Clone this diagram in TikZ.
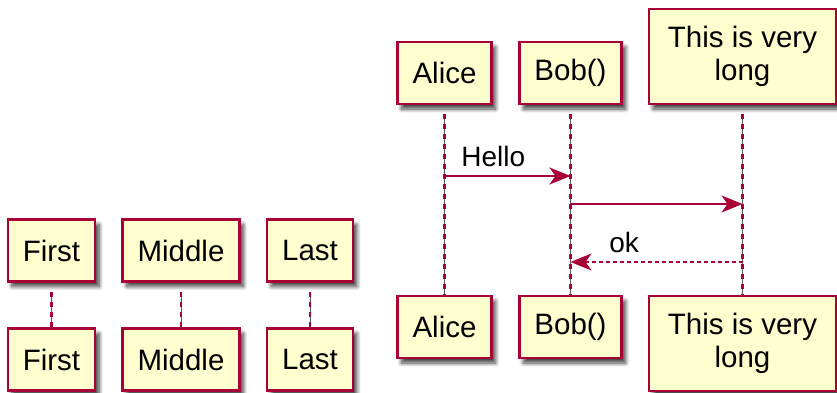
\documentclass[tikz,border=0pt]{standalone}
\usepackage{fontspec}
\setmainfont{Liberation Sans}
\usetikzlibrary{arrows.meta,calc,shadows.blur}
\definecolor{plborder}{HTML}{A80036}
\definecolor{plfill}{HTML}{FEFECE}
\tikzset{
	part/.style={draw=plborder, fill=plfill, line width=2.4pt, inner xsep=15pt, minimum height=62pt,
		font=\fontsize{29.5}{33}\selectfont,
		blur shadow={shadow xshift=4pt, shadow yshift=-5pt, shadow blur radius=4pt, shadow blur steps=8, shadow opacity=75}},
	lifegray/.style={draw=gray!70!black, line width=1pt, shorten <=9pt},
	lifedash/.style={draw=plborder, line width=2.2pt, shorten <=9pt, dash pattern=on 5pt off 5pt},
	msg/.style={draw=plborder, line width=1.7pt, -{Stealth[length=21pt,width=17pt,inset=6pt]}},
	reply/.style={msg, dash pattern=on 4pt off 3pt},
	msglabel/.style={font=\fontsize{28}{32}\selectfont, anchor=base west, inner sep=0pt}
}

\begin{document}
\begin{tikzpicture}[x=1pt,y=-1pt]
		\useasboundingbox (0,0) rectangle (837,392);
		% first / middle / last
		\node[part] (first) at (51.5,250.5) {First};
		\node[part] (middle) at (181,250.5) {Middle};
		\node[part] (last) at (310,250.5) {Last};
		\node[part] (first2) at (51.5,359.5) {First};
		\node[part] (middle2) at (181,359.5) {Middle};
		\node[part] (last2) at (310,359.5) {Last};
		% alice / bob / long
		\node[part] (alice) at (444.5,73) {Alice};
		\node[part] (bob) at (570.5,73) {Bob()};
		\node[part, align=center, minimum width=187pt, minimum height=95pt] (long) at (742.5,56.5) {This is very\\long};
		\node[part] (alice2) at (444.5,327) {Alice};
		\node[part] (bob2) at (570.5,327) {Bob()};
		\node[part, align=center, minimum width=187pt, minimum height=95pt] (long2) at (742.5,343.5) {This is very\\long};
		\foreach \p in {first,middle,last,alice,bob,long}{
			\draw[lifegray] (\p) -- (\p2);
			\draw[lifedash] (\p) -- (\p2);
		}
		\coordinate (m1) at (0,176);
		\coordinate (m2) at (0,204);
		\coordinate (m3) at (0,262);
		\draw[msg] (alice |- m1) -- node[msglabel, pos=0, xshift=16pt, yshift=10pt] {Hello} (bob |- m1);
		\draw[msg] (bob |- m2) -- (long |- m2);
		\draw[reply] (long |- m3) -- node[msglabel, pos=1, xshift=38pt, yshift=10pt] {ok} (bob |- m3);
	\end{tikzpicture}
\end{document}
